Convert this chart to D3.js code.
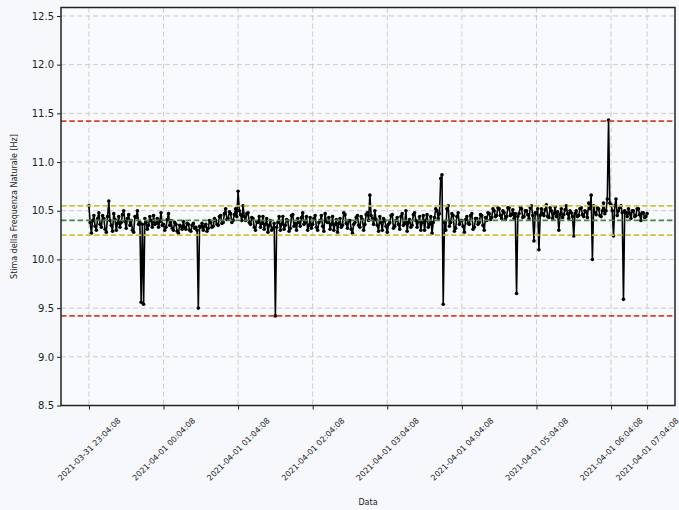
<!DOCTYPE html>
<html>
<head>
<meta charset="utf-8">
<script src="https://cdn.jsdelivr.net/npm/d3@7"></script>
<style>
  html, body { margin: 0; padding: 0; background: #f6f8fb; }
  svg { display: block; font-family: "DejaVu Sans", sans-serif; }
</style>
</head>
<body>
<svg id="chart" width="679" height="510"></svg>
<script>
// Stima della frequenza naturale [Hz], un campione al minuto
const frequenze = [
  10.55, 10.38, 10.27, 10.40, 10.45, 10.34, 10.30, 10.42, 10.48, 10.36, 10.33, 10.45, 10.42, 10.31, 10.28, 10.44, 10.60, 10.40, 10.35, 10.29, 10.47, 10.41, 10.30, 10.37, 10.44, 10.33, 10.38, 10.46, 10.50, 10.39,
  10.32, 10.42, 10.46, 10.35, 10.40, 10.30, 10.28, 10.44, 10.43, 10.50, 10.36, 10.38, 9.56, 10.36, 9.54, 10.42, 10.38, 10.31, 10.35, 10.44, 10.40, 10.33, 10.45, 10.36, 10.37, 10.42, 10.33, 10.39, 10.48, 10.35,
  10.36, 10.30, 10.33, 10.41, 10.47, 10.35, 10.40, 10.32, 10.30, 10.38, 10.36, 10.29, 10.27, 10.35, 10.34, 10.31, 10.39, 10.33, 10.31, 10.37, 10.36, 10.30, 10.29, 10.35, 10.37, 10.32, 10.33, 10.30, 9.50, 10.34,
  10.33, 10.37, 10.30, 10.34, 10.36, 10.29, 10.32, 10.40, 10.38, 10.33, 10.34, 10.42, 10.40, 10.36, 10.35, 10.44, 10.45, 10.37, 10.38, 10.47, 10.52, 10.41, 10.42, 10.49, 10.47, 10.38, 10.40, 10.46, 10.52, 10.44,
  10.70, 10.50, 10.46, 10.40, 10.55, 10.44, 10.40, 10.47, 10.48, 10.38, 10.36, 10.43, 10.42, 10.33, 10.30, 10.39, 10.38, 10.44, 10.33, 10.37, 10.44, 10.31, 10.36, 10.42, 10.28, 10.35, 10.40, 10.30, 10.32, 10.37,
  9.42, 10.33, 10.38, 10.44, 10.30, 10.36, 10.44, 10.31, 10.35, 10.41, 10.40, 10.29, 10.32, 10.45, 10.46, 10.34, 10.37, 10.30, 10.42, 10.38, 10.34, 10.43, 10.48, 10.36, 10.38, 10.44, 10.30, 10.35, 10.43, 10.32,
  10.36, 10.42, 10.45, 10.33, 10.30, 10.38, 10.40, 10.45, 10.34, 10.29, 10.47, 10.39, 10.38, 10.43, 10.31, 10.36, 10.44, 10.30, 10.36, 10.41, 10.28, 10.37, 10.42, 10.33, 10.35, 10.48, 10.46, 10.37, 10.32, 10.40,
  10.40, 10.31, 10.27, 10.36, 10.38, 10.43, 10.45, 10.35, 10.33, 10.44, 10.41, 10.30, 10.36, 10.46, 10.48, 10.40, 10.66, 10.45, 10.42, 10.36, 10.50, 10.41, 10.35, 10.29, 10.44, 10.38, 10.30, 10.42, 10.40, 10.34,
  10.28, 10.36, 10.38, 10.45, 10.46, 10.32, 10.34, 10.40, 10.43, 10.36, 10.31, 10.44, 10.47, 10.35, 10.37, 10.50, 10.29, 10.38, 10.41, 10.33, 10.35, 10.46, 10.48, 10.40, 10.33, 10.39, 10.44, 10.30, 10.38, 10.45,
  10.30, 10.40, 10.46, 10.33, 10.36, 10.44, 10.27, 10.38, 10.43, 10.52, 10.50, 10.42, 10.47, 10.83, 10.87, 9.54, 10.38, 10.30, 10.52, 10.55, 10.34, 10.38, 10.47, 10.45, 10.29, 10.32, 10.44, 10.48, 10.36, 10.40,
  10.40, 10.34, 10.28, 10.41, 10.44, 10.37, 10.36, 10.45, 10.47, 10.31, 10.33, 10.42, 10.42, 10.36, 10.38, 10.46, 10.45, 10.35, 10.30, 10.43, 10.40, 10.48, 10.47, 10.41, 10.43, 10.52, 10.50, 10.44, 10.45, 10.53,
  10.52, 10.45, 10.42, 10.50, 10.48, 10.41, 10.44, 10.53, 10.53, 10.45, 10.46, 10.51, 10.42, 10.47, 9.65, 10.44, 10.47, 10.54, 10.52, 10.43, 10.44, 10.50, 10.50, 10.46, 10.42, 10.53, 10.55, 10.45, 10.19, 10.48,
  10.47, 10.52, 10.10, 10.45, 10.52, 10.47, 10.45, 10.51, 10.56, 10.44, 10.43, 10.53, 10.50, 10.42, 10.47, 10.54, 10.44, 10.49, 10.30, 10.46, 10.52, 10.43, 10.46, 10.51, 10.55, 10.47, 10.42, 10.50, 10.48, 10.44,
  10.24, 10.47, 10.50, 10.44, 10.45, 10.52, 10.53, 10.46, 10.44, 10.50, 10.49, 10.43, 10.58, 10.52, 10.66, 10.00, 10.55, 10.48, 10.46, 10.53, 10.52, 10.45, 10.44, 10.50, 10.58, 10.47, 10.50, 10.62, 11.43, 10.58,
  10.56, 10.50, 10.24, 10.55, 10.62, 10.45, 10.50, 10.53, 10.55, 10.48, 9.59, 10.50, 10.48, 10.44, 10.52, 10.47, 10.42, 10.50, 10.50, 10.44, 10.45, 10.52, 10.52, 10.46, 10.40, 10.48, 10.48, 10.43, 10.44, 10.47
];

// Posizioni (indice del campione) ed etichette delle tacche dell'asse temporale
const tickIndici = [0, 60, 120, 180, 240, 300, 360, 420, 449];
const tickEtichette = [
  "2021-03-31 23:04:08", "2021-04-01 00:04:08", "2021-04-01 01:04:08",
  "2021-04-01 02:04:08", "2021-04-01 03:04:08", "2021-04-01 04:04:08",
  "2021-04-01 05:04:08", "2021-04-01 06:04:08", "2021-04-01 07:04:08"
];
const yTicks = [8.5, 9.0, 9.5, 10.0, 10.5, 11.0, 11.5, 12.0, 12.5];

// Soglie orizzontali
const limitiRossi = [9.42, 11.42];
const limitiGialli = [10.25, 10.55];
const valoreMedio = [10.40];

const svg = d3.select("#chart");
const W = 679, H = 510;
const L = 61, R = 675, T = 7.5, B = 405.5;

svg.append("rect").attr("width", W).attr("height", H).attr("fill", "#f6f8fb");
svg.append("rect").attr("x", L).attr("y", T).attr("width", R - L).attr("height", B - T).attr("fill", "#f8fafd");

const n = frequenze.length;
const pad = (n - 1) * 0.05;
const x = d3.scaleLinear().domain([-pad, n - 1 + pad]).range([L, R]);
const y = d3.scaleLinear().domain([8.5, 12.587]).range([B, T]);

// Griglia tratteggiata
const grid = svg.append("g").attr("stroke", "#cbcbcb").attr("stroke-width", 1).attr("stroke-dasharray", "5,3");
grid.selectAll("line.v").data(tickIndici).join("line")
  .attr("x1", d => x(d)).attr("x2", d => x(d)).attr("y1", T).attr("y2", B);
grid.selectAll("line.h").data(yTicks).join("line")
  .attr("x1", L).attr("x2", R).attr("y1", d => y(d)).attr("y2", d => y(d));

// Serie
const pts = frequenze.map((v, i) => [i, v]);
svg.append("path").datum(pts)
  .attr("fill", "none").attr("stroke", "#000").attr("stroke-width", 1.6)
  .attr("stroke-linejoin", "round")
  .attr("d", d3.line().x(d => x(d[0])).y(d => y(d[1])));
svg.append("g").selectAll("circle").data(pts).join("circle")
  .attr("cx", d => x(d[0])).attr("cy", d => y(d[1])).attr("r", 1.8).attr("fill", "#000");

// Linee di soglia
function soglie(valori, colore) {
  svg.append("g").selectAll("line").data(valori).join("line")
    .attr("x1", L).attr("x2", R).attr("y1", d => y(d)).attr("y2", d => y(d))
    .attr("stroke", colore).attr("stroke-width", 1.8).attr("stroke-dasharray", "5.5,2.8");
}
soglie(limitiRossi, "#d9402c");
soglie(limitiGialli, "#cdc23a");
soglie(valoreMedio, "#3d8c3d");

// Assi
const yAxis = svg.append("g").attr("transform", `translate(${L},0)`)
  .call(d3.axisLeft(y).tickValues(yTicks).tickFormat(d3.format(".1f")).tickSize(4).tickSizeOuter(0));
yAxis.select(".domain").remove();
yAxis.selectAll(".tick line").attr("stroke", "#222").attr("stroke-width", 1);
yAxis.selectAll(".tick text").attr("font-size", 10).attr("fill", "#222").attr("x", -7)
  .attr("font-family", "DejaVu Sans, sans-serif");

const xAxis = svg.append("g").attr("transform", `translate(0,${B})`)
  .call(d3.axisBottom(x).tickValues(tickIndici).tickFormat((d, i) => tickEtichette[i]).tickSize(4).tickSizeOuter(0));
xAxis.select(".domain").remove();
xAxis.selectAll(".tick line").attr("stroke", "#222").attr("stroke-width", 1);
xAxis.selectAll(".tick text")
  .attr("font-size", 8).attr("fill", "#222").attr("font-family", "DejaVu Sans, sans-serif")
  .attr("text-anchor", "middle").attr("dominant-baseline", "central")
  .attr("x", 0).attr("dy", null)
  .each(function () {
    const len = this.getComputedTextLength();
    const off = 11 + (len + 8) * Math.SQRT1_2 / 2;
    d3.select(this).attr("y", 0).attr("transform", `translate(0,${off}) rotate(-45)`);
  });

// Cornice
svg.append("rect").attr("x", L).attr("y", T).attr("width", R - L).attr("height", B - T)
  .attr("fill", "none").attr("stroke", "#222").attr("stroke-width", 1.5);

// Titoli degli assi
svg.append("text").attr("x", (L + R) / 2).attr("y", 505).attr("text-anchor", "middle")
  .attr("font-size", 8).attr("fill", "#222").text("Data");
svg.append("text").attr("transform", `translate(14,${(T + B) / 2}) rotate(-90)`)
  .attr("text-anchor", "middle").attr("dominant-baseline", "central")
  .attr("font-size", 8).attr("fill", "#222").text("Stima della Frequenza Naturale [Hz]");
</script>
</body>
</html>
